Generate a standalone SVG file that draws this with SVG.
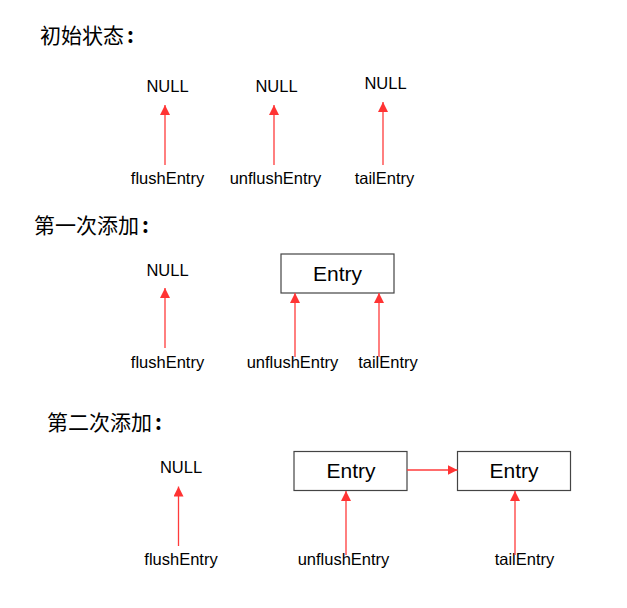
<svg xmlns="http://www.w3.org/2000/svg" width="627" height="608" viewBox="0 0 627 608">
<style>
.title{font-family:"Noto Sans CJK SC","Liberation Sans",sans-serif;font-size:21px;fill:#000}
.colon{font-weight:bold}
.lbl{font-family:"Liberation Sans",Arial,sans-serif;font-size:16.5px;fill:#000;text-anchor:middle}
.ent{font-family:"Liberation Sans",Arial,sans-serif;font-size:21px;fill:#000;text-anchor:middle}
.box{fill:#fff;stroke:#444;stroke-width:1.2}
.arr{stroke:#ff3b3b;stroke-width:1.3;fill:none;marker-end:url(#ah)}
</style>
<defs>
<marker id="ah" markerUnits="userSpaceOnUse" markerWidth="10" markerHeight="10" refX="10" refY="5" orient="auto" viewBox="0 0 10 10">
<path d="M0,0 L10,5 L0,10 z" fill="#ff3333"/>
</marker>
</defs>
<rect width="627" height="608" fill="#fff"/>
<text class="title" x="40" y="43">初始状态<tspan class="colon" dx="3">:</tspan></text>
<text class="title" x="34" y="233">第一次添加<tspan class="colon" dx="3">:</tspan></text>
<text class="title" x="47" y="430">第二次添加<tspan class="colon" dx="3">:</tspan></text>

<g id="s1-null1"><text class="lbl" x="167.5" y="92">NULL</text></g>
<g id="s1-null2"><text class="lbl" x="276.5" y="92">NULL</text></g>
<g id="s1-null3"><text class="lbl" x="385.5" y="89">NULL</text></g>
<g id="s1-flush"><text class="lbl" x="167.5" y="184">flushEntry</text></g>
<g id="s1-unflush"><text class="lbl" x="275.5" y="184">unflushEntry</text></g>
<g id="s1-tail"><text class="lbl" x="384.5" y="184">tailEntry</text></g>

<g id="s2-null"><text class="lbl" x="167.5" y="276">NULL</text></g>
<g id="s2-entry"><rect class="box" x="281" y="254" width="113" height="39"/><text class="ent" x="337.5" y="281">Entry</text></g>
<g id="s2-flush"><text class="lbl" x="167.5" y="368">flushEntry</text></g>
<g id="s2-unflush"><text class="lbl" x="292.5" y="368">unflushEntry</text></g>
<g id="s2-tail"><text class="lbl" x="388" y="368">tailEntry</text></g>

<g id="s3-null"><text class="lbl" x="181" y="473">NULL</text></g>
<g id="s3-entry1"><rect class="box" x="294" y="451.5" width="113" height="39"/><text class="ent" x="351" y="478">Entry</text></g>
<g id="s3-entry2"><rect class="box" x="457.5" y="451.5" width="113" height="39"/><text class="ent" x="514" y="478">Entry</text></g>
<g id="s3-flush"><text class="lbl" x="181" y="565">flushEntry</text></g>
<g id="s3-unflush"><text class="lbl" x="343.5" y="565">unflushEntry</text></g>
<g id="s3-tail"><text class="lbl" x="524.5" y="565">tailEntry</text></g>

<g id="connectors">
<line class="arr" x1="165" y1="165" x2="165" y2="105"/>
<line class="arr" x1="274" y1="165" x2="274" y2="105"/>
<line class="arr" x1="383" y1="165" x2="383" y2="102"/>
<line class="arr" x1="165" y1="348" x2="165" y2="288"/>
<line class="arr" x1="295" y1="357" x2="295" y2="293"/>
<line class="arr" x1="379" y1="357" x2="379" y2="293"/>
<line class="arr" x1="178.5" y1="546" x2="178.5" y2="486.5"/>
<line class="arr" x1="346" y1="555" x2="346" y2="491"/>
<line class="arr" x1="515" y1="555" x2="515" y2="491"/>
<line class="arr" x1="407" y1="470" x2="457.5" y2="470"/>
</g>
</svg>
